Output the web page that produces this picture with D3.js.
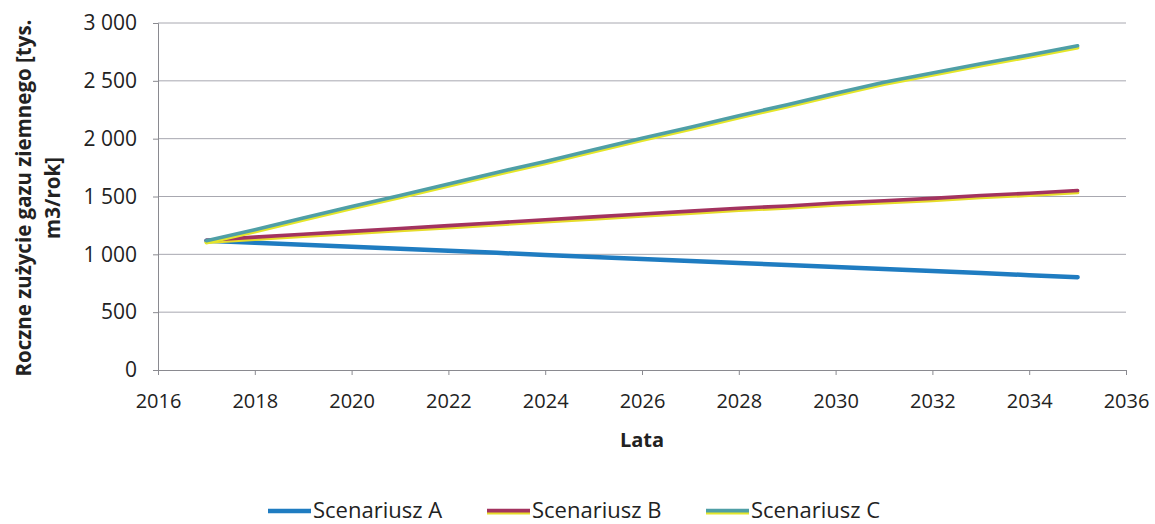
<!DOCTYPE html>
<html>
<head>
<meta charset="utf-8">
<script src="https://cdn.jsdelivr.net/npm/d3@7"></script>
<style>
  html, body { margin: 0; padding: 0; background: #fff; }
  svg { display: block; }
  text { font-family: "Open Sans", "Noto Sans", sans-serif; fill: #222; }
</style>
</head>
<body>
<svg id="chart" width="1155" height="524"></svg>
<script>
// Annual natural gas consumption per scenario [thousand m3/year]
const years = [2017, 2018, 2019, 2020, 2021, 2022, 2023, 2024, 2025, 2026,
               2027, 2028, 2029, 2030, 2031, 2032, 2033, 2034, 2035];
const scenarioA = [1118, 1100, 1083, 1065, 1048, 1030, 1013, 995, 978, 960,
                   943, 925, 908, 890, 873, 855, 838, 820, 802];
const scenarioB = [1118, 1145, 1170, 1195, 1220, 1245, 1270, 1295, 1320, 1345,
                   1370, 1395, 1415, 1440, 1460, 1480, 1505, 1525, 1548];
const scenarioC = [1115, 1210, 1310, 1410, 1505, 1605, 1705, 1800, 1900, 2000,
                   2095, 2195, 2290, 2390, 2485, 2565, 2645, 2720, 2800];
const seriesNames = ["Scenariusz A", "Scenariusz B", "Scenariusz C"];
const xTicks = [2016, 2018, 2020, 2022, 2024, 2026, 2028, 2030, 2032, 2034, 2036];
const yTicks = [0, 500, 1000, 1500, 2000, 2500, 3000];

const svg = d3.select("#chart");
const m = { left: 158, right: 1126, top: 23, bottom: 370 };

const x = d3.scaleLinear().domain([2016, 2036]).range([m.left, m.right]);
const y = d3.scaleLinear().domain([0, 3000]).range([m.bottom, m.top]);

// Thousands separated by a space, e.g. "2 500"
const fmt = v => d3.format(",")(v).replace(/,/g, "\u00a0");

// Horizontal gridlines
svg.append("g")
  .selectAll("line")
  .data(yTicks.filter(v => v > 0))
  .join("line")
  .attr("x1", m.left).attr("x2", m.right)
  .attr("y1", d => y(d)).attr("y2", d => y(d))
  .attr("stroke", "#a8a8b0").attr("stroke-width", 1);

// Y axis
const yAxis = svg.append("g")
  .attr("transform", `translate(${m.left},0)`)
  .call(d3.axisLeft(y).tickValues(yTicks).tickFormat(v => fmt(v)).tickSize(5).tickPadding(16));
yAxis.select(".domain").attr("stroke", "#8a8a90");
yAxis.selectAll(".tick line").attr("stroke", "#8a8a90");
yAxis.selectAll("text").style("font-size", "21px").attr("fill", "#222");

// X axis
const xAxis = svg.append("g")
  .attr("transform", `translate(0,${m.bottom})`)
  .call(d3.axisBottom(x).tickValues(xTicks).tickFormat(d3.format("d")).tickSize(5).tickPadding(19));
xAxis.select(".domain").attr("stroke", "#8a8a90");
xAxis.selectAll(".tick line").attr("stroke", "#8a8a90");
xAxis.selectAll("text").style("font-size", "20px").attr("fill", "#222");

// Axis titles
svg.append("text")
  .attr("x", (m.left + m.right) / 2).attr("y", 447)
  .attr("text-anchor", "middle")
  .style("font-size", "20px").style("font-weight", "bold")
  .text("Lata");

const yTitle = svg.append("text")
  .attr("transform", `translate(31,198) rotate(-90)`)
  .attr("text-anchor", "middle")
  .style("font-size", "20.5px").style("font-weight", "bold");
yTitle.append("tspan").attr("x", 0).attr("dy", 0).text("Roczne zużycie gazu ziemnego [tys.");
yTitle.append("tspan").attr("x", 0).attr("dy", 29).text("m3/rok]");

// Series lines: each stroke layer is [colour, vertical offset]
const series = [
  { name: seriesNames[0], values: scenarioA, layers: [["#1f7cc1", 0]] },
  { name: seriesNames[1], values: scenarioB, layers: [["#e6dc2a", 1.6], ["#a3335f", -0.4]] },
  { name: seriesNames[2], values: scenarioC, layers: [["#e4e62a", 1.6], ["#4f9fa6", -0.4]] }
];

const line = d3.line().x((d, i) => x(years[i])).y(d => y(d));

const lines = svg.append("g");
series.forEach(s => {
  s.layers.forEach(([color, dy]) => {
    lines.append("path")
      .datum(s.values)
      .attr("d", line)
      .attr("transform", `translate(0,${dy})`)
      .attr("fill", "none")
      .attr("stroke", color)
      .attr("stroke-width", dy === 0 ? 4.5 : 3.6)
      .attr("stroke-linecap", "round");
  });
});

// Legend
const legendX = [268, 487, 706];
const legend = svg.append("g");
series.forEach((s, i) => {
  const g = legend.append("g").attr("transform", `translate(${legendX[i]},511)`);
  s.layers.forEach(([color, dy]) => {
    g.append("line")
      .attr("x1", 0).attr("x2", 43)
      .attr("y1", dy).attr("y2", dy)
      .attr("stroke", color)
      .attr("stroke-width", dy === 0 ? 4.5 : 3.6);
  });
  g.append("text")
    .attr("x", 45).attr("y", 7)
    .style("font-size", "22px")
    .text(s.name);
});
</script>
</body>
</html>
